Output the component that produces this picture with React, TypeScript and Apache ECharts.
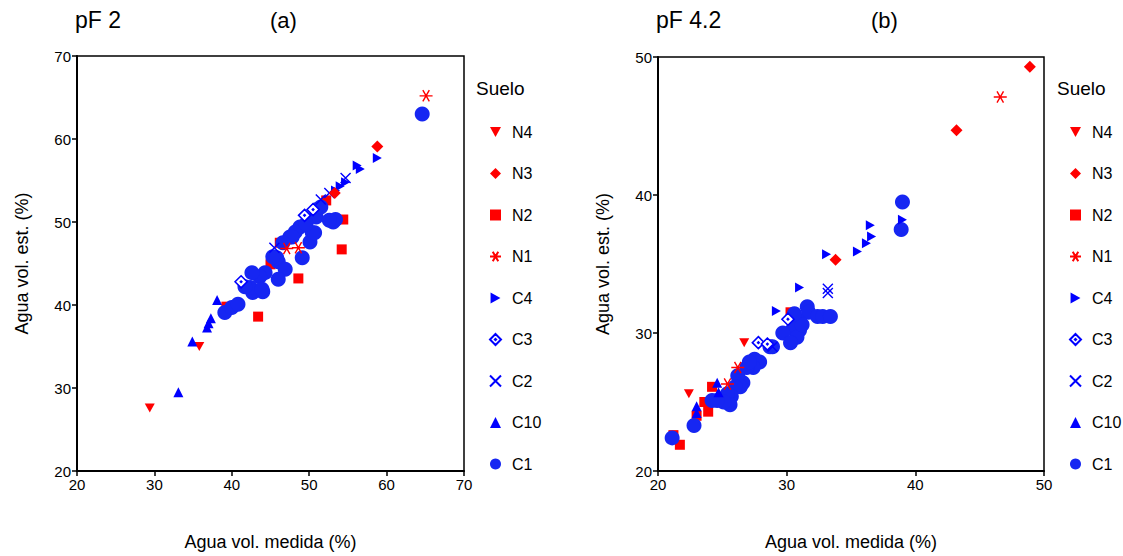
import React, { useEffect, useRef } from "react";
import * as echarts from "echarts";

// ---- Data: pF 2 (panel a) ----
const N4_a = [[29.4, 27.6], [35.8, 35.0]];
const N3_a = [[58.8, 59.1], [53.3, 53.5]];
const N2_a = [[54.4, 50.3], [54.2, 46.7], [48.6, 43.2], [43.4, 38.6], [45.0, 44.9], [46.2, 47.5], [52.2, 52.6], [39.3, 39.8]];
const N1_a = [[65.1, 65.2], [48.6, 46.9], [47.1, 46.8]];
const C4_a = [[58.8, 57.7], [56.2, 56.8], [56.6, 56.4], [54.7, 54.8], [54.0, 54.3], [53.4, 53.8]];
const C3_a = [[41.2, 42.8], [49.4, 50.8], [50.5, 51.5]];
const C2_a = [[54.7, 55.3], [51.5, 52.7], [45.5, 46.9], [52.6, 53.5]];
const C10_a = [[33.1, 29.5], [34.9, 35.6], [36.8, 37.3], [37.0, 37.8], [37.3, 38.4], [38.1, 40.6]];
const C1_a = [[64.6, 63.0], [53.1, 50.0], [53.4, 50.3], [51.0, 51.5], [50.4, 48.7], [50.9, 50.6], [50.1, 47.6], [50.7, 48.7], [49.1, 45.7], [48.8, 49.4], [48.2, 48.8], [47.5, 48.2], [47.8, 48.2], [46.6, 47.5], [46.0, 45.2], [45.8, 45.7], [45.3, 45.8], [46.9, 44.3], [46.0, 43.1], [44.3, 43.9], [43.6, 43.4], [42.6, 43.9], [44.0, 41.6], [42.7, 41.5], [42.4, 42.1], [41.7, 42.2], [43.9, 41.9], [39.1, 39.1], [40.0, 39.7], [40.8, 40.1], [49.6, 49.8], [51.5, 51.8], [52.6, 50.2]];

// ---- Data: pF 4.2 (panel b) ----
const N4_b = [[22.4, 25.6], [26.7, 29.3]];
const N3_b = [[48.9, 49.3], [43.2, 44.7], [33.8, 35.3]];
const N2_b = [[21.2, 22.6], [21.7, 21.9], [24.2, 26.1], [23.6, 25.0], [23.9, 24.3], [23.0, 24.0], [30.3, 31.5]];
const N1_b = [[46.6, 47.1], [26.2, 27.5], [25.4, 26.3]];
const C4_b = [[39.0, 38.2], [36.5, 37.8], [36.6, 37.0], [36.2, 36.5], [35.5, 35.9], [33.1, 35.7], [31.0, 33.3], [29.2, 31.6]];
const C3_b = [[27.8, 29.3], [28.5, 29.2], [30.1, 31.0]];
const C2_b = [[33.2, 33.2], [33.2, 32.9], [28.9, 29.0]];
const C10_b = [[23.0, 24.7], [23.0, 24.2], [24.6, 26.4], [24.7, 25.7]];
const C1_b = [[39.0, 39.5], [38.9, 37.5], [31.6, 31.9], [31.7, 31.5], [32.4, 31.2], [32.8, 31.2], [33.4, 31.2], [30.8, 31.0], [31.0, 30.2], [30.5, 30.3], [30.8, 29.7], [29.7, 30.0], [30.3, 29.3], [28.9, 29.0], [28.7, 29.0], [27.5, 28.1], [27.9, 27.9], [27.4, 27.5], [26.9, 27.5], [27.1, 27.9], [26.6, 26.4], [26.2, 26.9], [26.4, 26.1], [26.0, 26.1], [25.7, 25.4], [25.4, 25.6], [25.6, 24.8], [25.1, 25.0], [24.6, 25.1], [24.2, 25.1], [22.8, 23.3], [21.1, 22.4], [31.2, 30.6], [30.6, 31.4]];

const legendNames = ["N4", "N3", "N2", "N1", "C4", "C3", "C2", "C10", "C1"];
const panelTitles = ["pF 2", "pF 4.2"];
const panelLetters = ["(a)", "(b)"];
const xAxisName = "Agua vol. medida (%)";
const yAxisName = "Agua vol. est. (%)";
const legendTitle = "Suelo";

const RED = "#ff0000";
const BLUE = "#0000ff";
const CIRC = "#1626f2";
const FONT = "Liberation Sans, Arial, sans-serif";

const SYM_DOWN = "path://M0,0L10,0L5,9Z";
const SYM_RIGHT = "path://M0,0L9,5L0,10Z";
const SYM_AST = "path://M-10,0L10,0M-5,-8.66L5,8.66M-5,8.66L5,-8.66";
const SYM_X = "path://M-10,-10L10,10M-10,10L10,-10";
const SYM_C3 = "path://M0,-10L10,0L0,10L-10,0ZM0,-1.2L1.2,0L0,1.2L-1.2,0Z";

const styles: Record<string, any> = {
  N4: { symbol: SYM_DOWN, symbolSize: 10, itemStyle: { color: RED, opacity: 1 } },
  N3: { symbol: "diamond", symbolSize: 12, itemStyle: { color: RED, opacity: 1 } },
  N2: { symbol: "rect", symbolSize: 10, itemStyle: { color: RED, opacity: 1 } },
  N1: { symbol: SYM_AST, symbolSize: 13, itemStyle: { color: RED, borderColor: RED, borderWidth: 1.4, opacity: 1 } },
  C4: { symbol: SYM_RIGHT, symbolSize: 10, itemStyle: { color: BLUE, opacity: 1 } },
  C3: { symbol: SYM_C3, symbolSize: 12, itemStyle: { color: "#ffffff", borderColor: BLUE, borderWidth: 1.6, opacity: 1 } },
  C2: { symbol: SYM_X, symbolSize: 10, itemStyle: { color: BLUE, borderColor: BLUE, borderWidth: 1.4, opacity: 1 } },
  C10: { symbol: "triangle", symbolSize: 10, itemStyle: { color: BLUE, opacity: 1 } },
  C1: { symbol: "circle", symbolSize: 15, itemStyle: { color: CIRC, opacity: 1 } },
};

const panelA: Record<string, number[][]> = { N4: N4_a, N3: N3_a, N2: N2_a, N1: N1_a, C4: C4_a, C3: C3_a, C2: C2_a, C10: C10_a, C1: C1_a };
const panelB: Record<string, number[][]> = { N4: N4_b, N3: N3_b, N2: N2_b, N1: N1_b, C4: C4_b, C3: C3_b, C2: C2_b, C10: C10_b, C1: C1_b };

const drawOrder = ["N2", "N4", "C1", "C10", "C2", "C3", "C4", "N1", "N3"];

function makeAxis(gridIndex: number, min: number, max: number, name: string, gap: number) {
  return {
    type: "value",
    gridIndex,
    min,
    max,
    interval: 10,
    name,
    nameLocation: "middle",
    nameGap: gap,
    nameTextStyle: { fontSize: 18, color: "#000", fontFamily: FONT },
    axisLine: { show: true, lineStyle: { color: "#000", width: 2 } },
    axisTick: { show: true, length: 5, lineStyle: { color: "#000", width: 1.5 } },
    axisLabel: { fontSize: 15, color: "#000", fontFamily: FONT, margin: 6 },
    splitLine: { show: false },
  };
}

export default function App() {
  const ref = useRef<HTMLDivElement>(null);
  useEffect(() => {
    document.body.style.margin = "0";
    const chart = echarts.init(ref.current!, undefined, { renderer: "svg" });
    const series: any[] = [];
    [panelA, panelB].forEach((panel, pi) => {
      drawOrder.forEach((name) => {
        const st = styles[name];
        series.push({
          type: "scatter",
          name,
          xAxisIndex: pi,
          yAxisIndex: pi,
          data: panel[name],
          symbol: st.symbol,
          symbolSize: st.symbolSize,
          symbolKeepAspect: true,
          itemStyle: st.itemStyle,
          emphasis: { disabled: true },
        });
      });
    });
    const legendCommon = {
      orient: "vertical",
      data: legendNames,
      itemWidth: 11,
      itemHeight: 11,
      itemGap: 25.5,
      textStyle: { fontSize: 16, color: "#000", fontFamily: FONT, padding: [0, 0, 0, 6] },
      selectedMode: false,
    };
    const grids = [
      { left: 77, top: 56, width: 387, height: 416 },
      { left: 658, top: 57, width: 386, height: 415 },
    ];
    chart.setOption({
      animation: false,
      backgroundColor: "#fff",
      grid: grids.map((g) => ({ ...g, show: true, borderColor: "#000", borderWidth: 1.5, backgroundColor: "transparent" })),
      xAxis: [makeAxis(0, 20, 70, xAxisName, 62), makeAxis(1, 20, 50, xAxisName, 62)],
      yAxis: [makeAxis(0, 20, 70, yAxisName, 46), makeAxis(1, 20, 50, yAxisName, 46)],
      legend: [
        { ...legendCommon, left: 484, top: 119 },
        { ...legendCommon, left: 1064, top: 119 },
      ],
      graphic: [
        { type: "text", left: 75, top: 8, style: { text: panelTitles[0], fontSize: 23, fill: "#000", fontFamily: FONT } },
        { type: "text", left: 270, top: 9, style: { text: panelLetters[0], fontSize: 22, fill: "#000", fontFamily: FONT } },
        { type: "text", left: 656, top: 8, style: { text: panelTitles[1], fontSize: 23, fill: "#000", fontFamily: FONT } },
        { type: "text", left: 871, top: 9, style: { text: panelLetters[1], fontSize: 22, fill: "#000", fontFamily: FONT } },
        { type: "text", left: 476, top: 79, style: { text: legendTitle, fontSize: 19, fill: "#000", fontFamily: FONT } },
        { type: "text", left: 1057, top: 79, style: { text: legendTitle, fontSize: 19, fill: "#000", fontFamily: FONT } },
      ],
      series,
    });
    return () => chart.dispose();
  }, []);
  return <div ref={ref} style={{ width: 1123, height: 556 }} />;
}
